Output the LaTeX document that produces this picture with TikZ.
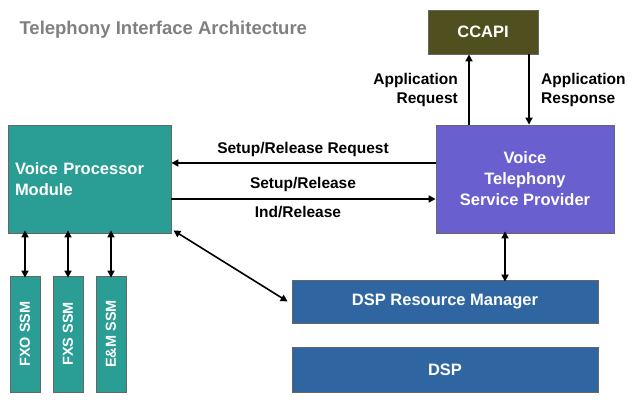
\documentclass[tikz,border=0pt]{standalone}
\usepackage{fontspec}
\setmainfont{Liberation Sans}
\usetikzlibrary{arrows.meta}
\definecolor{olivebox}{HTML}{4F4F1F}
\definecolor{tealbox}{HTML}{2A9D95}
\definecolor{purplebox}{HTML}{6A5FCF}
\definecolor{bluebox}{HTML}{2F65A0}
\begin{document}
\begin{tikzpicture}[x=1pt,y=-1pt,
  box/.style={draw=black!60,line width=0.8pt,text=white,font=\bfseries\fontsize{16.5}{21}\selectfont,inner sep=0pt},
  ssm/.style={box,fill=tealbox,minimum width=30pt,minimum height=116pt,font=\bfseries\fontsize{14.5}{16}\selectfont},
  arr/.style={-{Triangle[length=7pt,width=7pt]},line width=1.6pt,black},
  darr/.style={{Triangle[length=7pt,width=7pt]}-{Triangle[length=7pt,width=7pt]},line width=1.6pt,black},
  lab/.style={font=\bfseries\fontsize{15.5}{19}\selectfont,inner sep=1pt}]
\useasboundingbox (0,0) rectangle (639,403);
\node[anchor=west,text=black!50,font=\bfseries\fontsize{18.5}{21}\selectfont] (title) at (16,30) {Telephony Interface Architecture};
\node[box,fill=olivebox,minimum width=110pt,minimum height=44pt] (ccapi) at (483,32) {CCAPI};
\node[box,fill=purplebox,minimum width=178pt,minimum height=108pt,align=center] (vtsp) at (525,179) {Voice\\Telephony\\Service Provider};
\node[box,fill=tealbox,minimum width=163pt,minimum height=108pt,align=left,text width=149pt] (vpm) at (89.5,179) {Voice Processor\\Module\\[26pt]};
\node[box,fill=bluebox,minimum width=306pt,minimum height=43pt] (dsprm) at (445,301.5) {DSP Resource Manager};
\node[box,fill=bluebox,minimum width=306pt,minimum height=45pt] (dsp) at (445,369.5) {DSP};
\node[ssm] (fxo) at (25,334) {\rotatebox{90}{FXO SSM}};
\node[ssm] (fxs) at (68,334) {\rotatebox{90}{FXS SSM}};
\node[ssm] (em) at (111,334) {\rotatebox{90}{E\&M SSM}};
\draw[arr] (vtsp.north -| 469,0) -- (ccapi.south -| 469,0);
\draw[arr] (ccapi.south -| 529,0) -- (vtsp.north -| 529,0);
\node[lab,anchor=east,align=right] (areq) at (459,90) {Application\\Request};
\node[lab,anchor=west,align=left] (aresp) at (540,90) {Application\\Response};
\draw[arr] (vtsp.west |- 0,163) -- (vpm.east |- 0,163);
\node[lab] (srr) at (303,149) {Setup/Release Request};
\draw[arr] (vpm.east |- 0,199) -- (vtsp.west |- 0,199);
\node[lab] (sr) at (303,184) {Setup/Release};
\node[lab] (ir) at (298,212) {Ind/Release};
\draw[darr] ([yshift=2pt]vtsp.south -| 505,0) -- ([yshift=-2pt]dsprm.north -| 505,0);
\draw[darr] ([shift={(2pt,3pt)}]vpm.south east) -- ([xshift=-4pt]dsprm.west);
\foreach \n/\x in {fxo/25,fxs/68,em/111}
  \draw[darr] ([yshift=3pt]vpm.south -| \x,0) -- ([yshift=-2pt]\n.north);
\end{tikzpicture}
\end{document}
